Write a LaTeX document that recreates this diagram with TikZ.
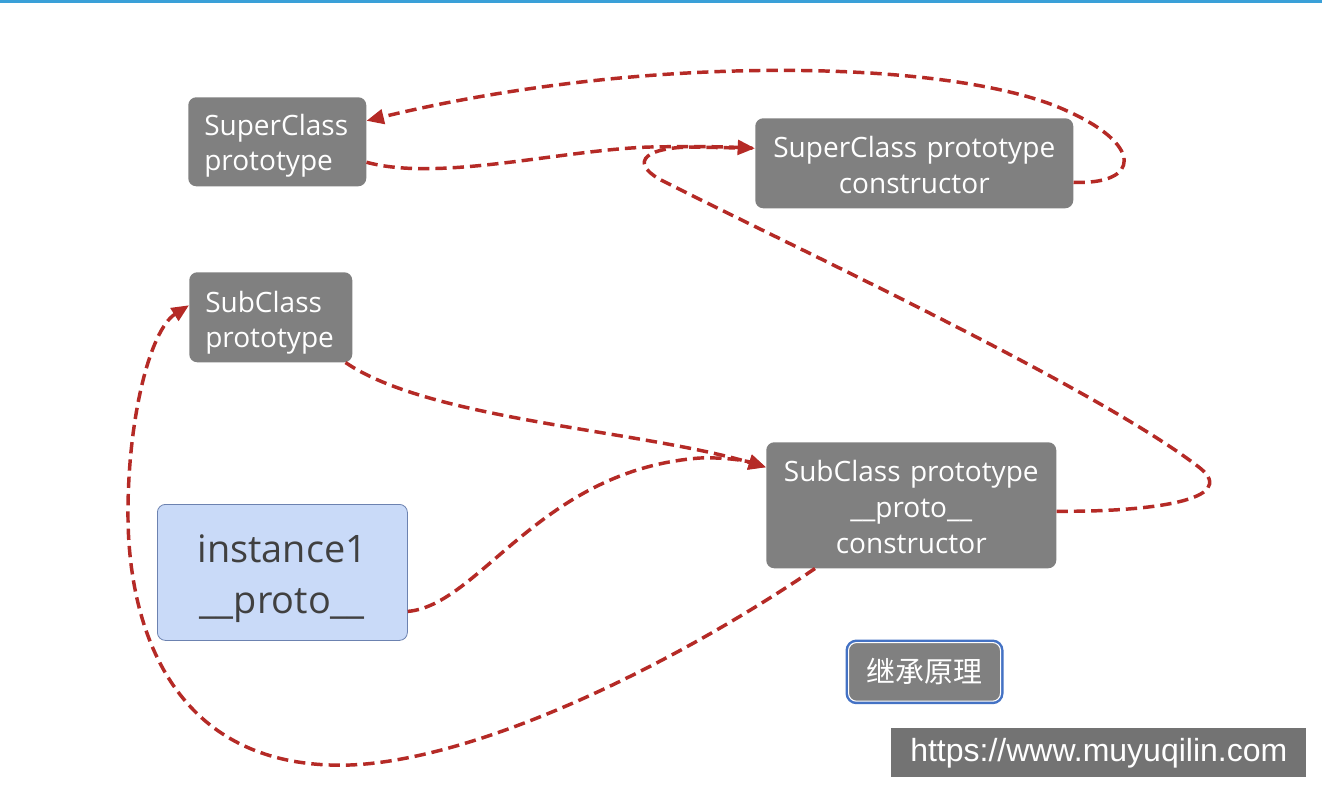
\documentclass[tikz,border=0pt]{standalone}
\usepackage{fontspec}
\setmainfont{Open Sans}
\newfontfamily\cjk{Noto Sans CJK SC}
\newfontfamily\wmfont{Liberation Sans}
\usetikzlibrary{arrows.meta,calc}
\definecolor{boxgray}{HTML}{808080}
\definecolor{linkred}{HTML}{B52A26}
\definecolor{topblue}{HTML}{3AA0D8}
\definecolor{instfill}{HTML}{C9DAF8}
\definecolor{instdraw}{HTML}{6C82B0}
\definecolor{instText}{HTML}{404040}
\definecolor{btnblue}{HTML}{4472C4}
\definecolor{wmgray}{HTML}{737373}
\newcommand{\lowerby}[1]{\rule{0pt}{\dimexpr\fontcharht\font`l+#1\relax}}
\tikzset{
  graybox/.style={fill=boxgray, draw=none, rounded corners=6pt, text=white, inner sep=0pt, anchor=north west},
  link/.style={draw=linkred, line width=2.6pt, dash pattern=on 8.5pt off 4.5pt},
  tip/.style={-{Triangle[length=13pt,width=11pt]}},
}
\begin{document}
\begin{tikzpicture}[x=0.75pt,y=-0.75pt]
\useasboundingbox (0,0) rectangle (1322,794);
\fill[white] (0,0) rectangle (1322,794);
\fill[topblue] (0,0) rectangle (1322,2.5);

% nodes
\node[graybox, minimum width=133.5pt, minimum height=66.75pt, align=left, text width=109.5pt,
      font=\fontsize{21}{26.25}\selectfont] (sp) at (188,97) {\lowerby{6pt}SuperClass\\prototype};
\node[graybox, minimum width=238.5pt, minimum height=67.5pt, align=center, text width=230pt,
      font=\fontsize{21}{27}\selectfont] (cons) at (755,118) {\lowerby{3pt}SuperClass prototype\\constructor};
\node[graybox, minimum width=122.25pt, minimum height=67.5pt, align=left, text width=98.25pt,
      font=\fontsize{21}{26.25}\selectfont] (sub) at (189,272) {\lowerby{7.5pt}SubClass\\prototype};
\node[graybox, minimum width=217.5pt, minimum height=94.5pt, align=center, text width=210pt,
      font=\fontsize{21}{27}\selectfont] (subb) at (766,442) {\lowerby{3pt}SubClass prototype\\\_\_proto\_\_\\constructor};
\node[fill=instfill, draw=instdraw, line width=0.6pt, rounded corners=6pt, anchor=north west,
      minimum width=187.5pt, minimum height=102pt, inner sep=0pt, align=center, text width=180pt,
      text=instText, font=\fontsize{28.4}{38}\selectfont] (inst) at (157,504) {\lowerby{9pt}instance1\\\_\_proto\_\_};
\node[graybox, minimum width=114pt, minimum height=44pt, preaction={draw=btnblue, line width=4.5pt, rounded corners=6pt},
      draw=white, line width=0.8pt, font=\cjk\fontsize{21.7}{24}\selectfont] (btn) at (848,642) {继承原理};
\node[fill=wmgray, anchor=north west, minimum width=311.25pt, minimum height=36.75pt, inner sep=0pt,
      text=white, font=\wmfont\fontsize{24}{26}\selectfont] (wm) at (891,728) {https://www.muyuqilin.com};

% connectors
\coordinate (spIn) at ($(sp.east)+(0,-21)$);
\coordinate (spOut) at ($(sp.east)+(0,20.5)$);
\coordinate (consIn) at ($(cons.west)+(0,-15)$);
\coordinate (consOut) at ($(cons.east)+(0,19)$);
\coordinate (subIn) at ($(sub.west)+(0,-12)$);
\coordinate (subOut) at ($(sub.south east)+(-7,0)$);
\coordinate (subbIn) at ($(subb.west)+(0,-38)$);
\coordinate (subbOut) at ($(subb.east)+(0,6)$);
\coordinate (subbLow) at ($(subb.south west)+(49,0)$);
\coordinate (instOut) at ($(inst.east)+(0,39)$);

\draw[link, tip] (spOut) .. controls (440,182) and (560,150) .. (650,147)
   .. controls (700,146) and (730,147) .. (consIn);
\draw[link, tip] (consOut) .. controls (1140,185) and (1145,145) .. (1065,110)
   .. controls (955,60) and (650,52) .. (spIn);
\draw[link, tip] (subOut) .. controls (430,420) and (640,430) .. (subbIn);
\draw[link, tip] (instOut) .. controls (480,605) and (540,470) .. (700,458)
   .. controls (730,457) and (750,462) .. (subbIn);
\draw[link] (subbOut) .. controls (1150,512) and (1240,500) .. (1200,468)
   .. controls (1100,390) and (800,250) .. (665,182)
   .. controls (630,165) and (640,148) .. (690,147) -- (consIn);
\draw[link, tip] (subbLow) .. controls (650,680) and (450,770) .. (330,765)
   .. controls (180,760) and (130,640) .. (128,520)
   .. controls (127,420) and (150,330) .. (subIn);
\end{tikzpicture}
\end{document}
